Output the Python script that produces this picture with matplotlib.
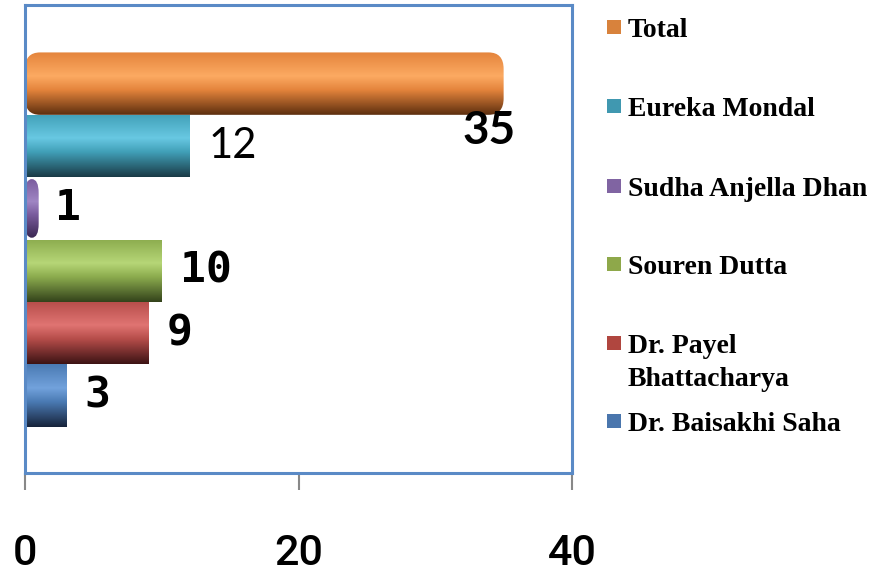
import numpy as np
import matplotlib.pyplot as plt
from matplotlib.colors import LinearSegmentedColormap
from matplotlib.patches import FancyBboxPatch, Rectangle

# data (bottom to top, as drawn)
names = ['Dr. Baisakhi Saha', 'Dr. Payel\nBhattacharya', 'Souren Dutta',
         'Sudha Anjella Dhan', 'Eureka Mondal', 'Total']
values = [3, 9, 10, 1, 12, 35]
xticks = [0, 20, 40]

# styles
base = ['#4a7ab3', '#b64d4a', '#8cac4e', '#7a5c9e', '#41a0b8', '#e4843c']
light = ['#72a2dc', '#e07472', '#b6d677', '#a086c4', '#68c8e2', '#fcaa62']
dark = ['#17233a', '#3c1314', '#33421b', '#3a2752', '#1a3a46', '#5c2e0e']
legend_col = ['#4a76ad', '#b0463f', '#8ea84a', '#8064a2', '#4098b0', '#d8823c']
rounded = [False, False, False, True, False, True]

W, H = 890, 572
fig = plt.figure(figsize=(W / 100, H / 100), dpi=100)
ax = fig.add_axes([25 / W, 99 / H, 547 / W, 468 / H])

ypos = np.arange(len(values))
bars = ax.barh(ypos, values, height=1.0, color='none', edgecolor='none')

grad = np.linspace(0, 1, 256).reshape(-1, 1)
for i, b in enumerate(bars):
    cmap = LinearSegmentedColormap.from_list(
        'g%d' % i, [(0, base[i]), (0.38, light[i]), (0.6, base[i]), (1, dark[i])])
    x0, y0, w, h = b.get_x(), b.get_y(), b.get_width(), b.get_height()
    clip = b
    if rounded[i]:
        if w < 2:
            r, asp = w / 2.0, 0.45
            y0, h = y0 + 0.03, h - 0.06
        else:
            r, asp = 1.1, 0.24
        clip = FancyBboxPatch((x0, y0), w, h,
                              boxstyle='round,pad=0,rounding_size=%f' % r,
                              mutation_aspect=asp, facecolor='none',
                              edgecolor='none')
        ax.add_patch(clip)
    im = ax.imshow(grad, cmap=cmap, aspect='auto', origin='upper',
                   extent=[x0, x0 + w, y0, y0 + h], interpolation='bilinear')
    im.set_clip_path(clip)

# value labels
lab_family = ['DejaVu Sans Mono'] * 4 + ['Lato', 'Lato']
lab_weight = ['bold'] * 4 + ['normal', 'bold']
lab_size = [31, 31, 31, 31, 30, 33]
lab_dx = [18, 19, 18, 16, 19, -15]
lab_dy = [0, 0, 0, 0, 0, -47]
lab_ha = ['left'] * 5 + ['center']
for i, v in enumerate(values):
    ax.annotate(str(v), (v, ypos[i]), xytext=(lab_dx[i], lab_dy[i]),
                textcoords='offset pixels', ha=lab_ha[i], va='center',
                fontsize=lab_size[i], family=lab_family[i],
                fontweight=lab_weight[i], color='black')

ax.set_xlim(0, 40)
ax.set_ylim(-1.24, 6.26)
ax.set_xticks(xticks)
ax.set_xticklabels([str(t) for t in xticks], family='Roboto',
                   fontweight='medium', fontsize=31)
ax.set_yticks([])
ax.tick_params(axis='x', direction='out', length=12, width=1.5,
               color='#888888', pad=31)
for s in ax.spines.values():
    s.set_color('#5a8ac6')
    s.set_linewidth(2.2)

# legend (drawn by hand to follow the original spacing)
leg_y = [421, 343, 264, 186, 106, 27]
for i, name in enumerate(names):
    yc = 1 - leg_y[i] / H
    fig.patches.append(Rectangle((607 / W, yc - 7 / H), 14 / W, 14 / H,
                                 transform=fig.transFigure,
                                 facecolor=legend_col[i], edgecolor='none'))
    fig.text(628 / W, yc + 9 / H, name, ha='left', va='top',
             family='Liberation Serif', fontweight='bold', fontsize=20,
             linespacing=1.4)

fig.savefig('out.png', dpi=100)
